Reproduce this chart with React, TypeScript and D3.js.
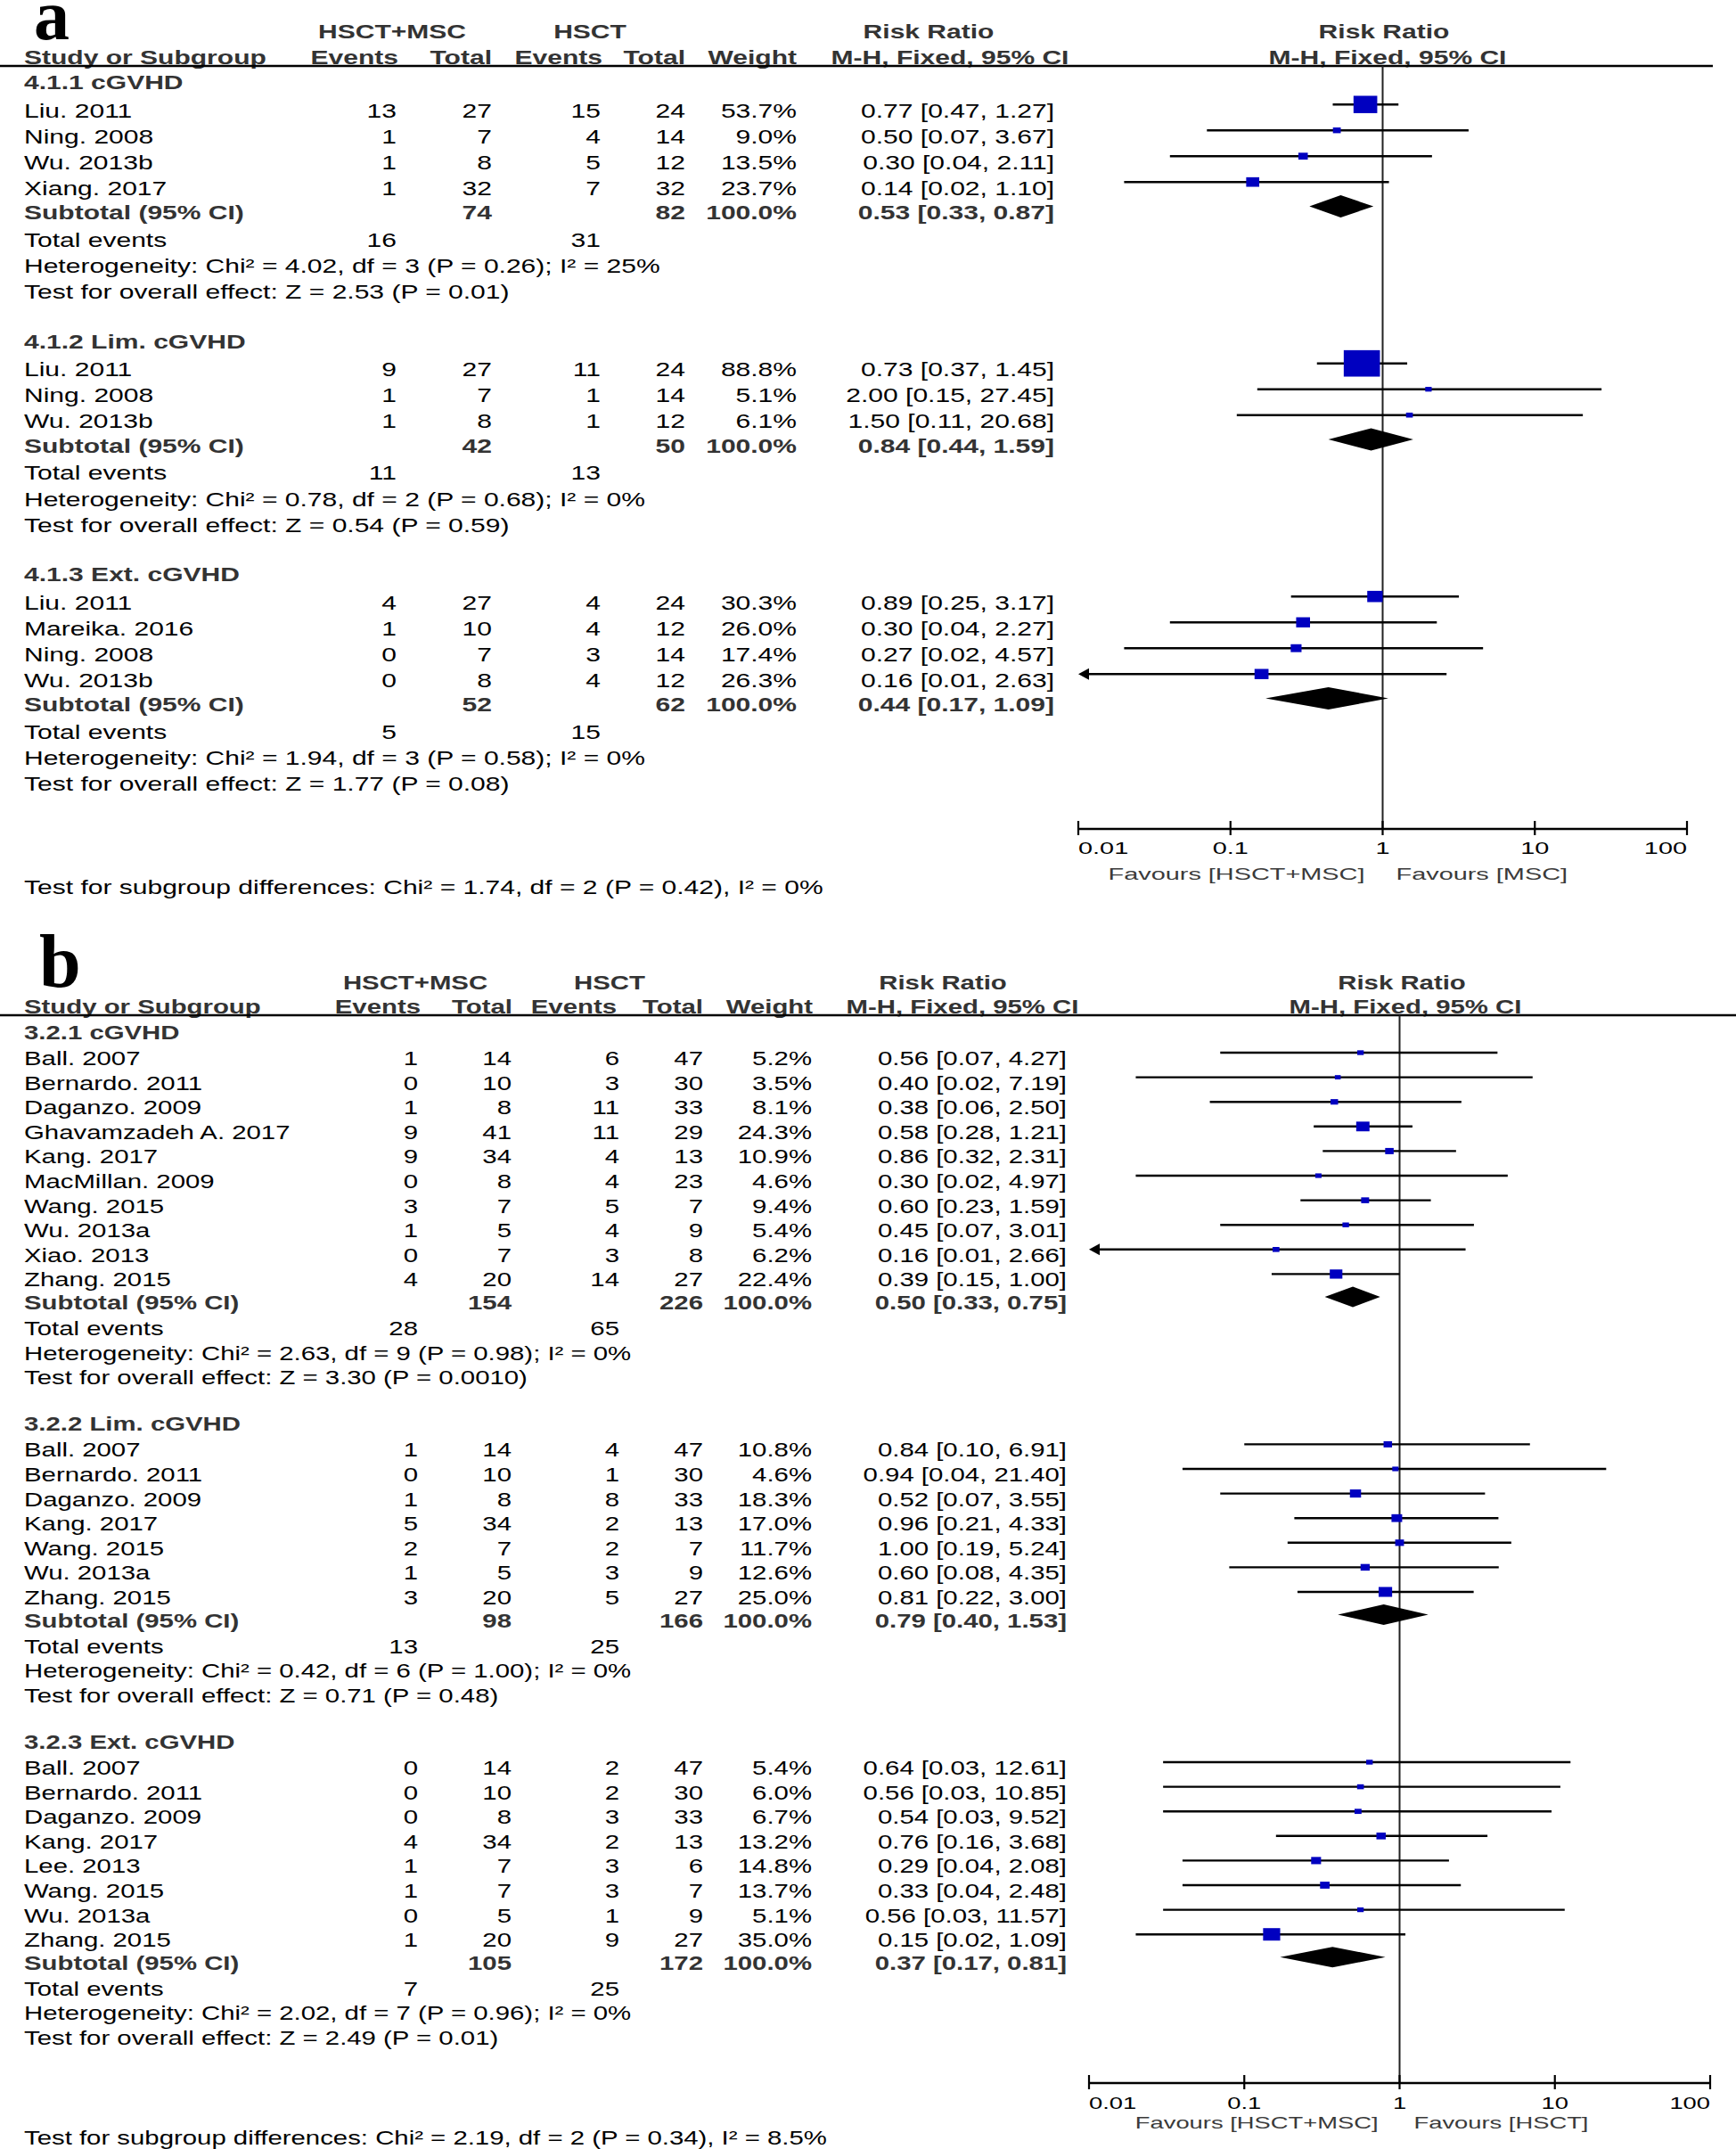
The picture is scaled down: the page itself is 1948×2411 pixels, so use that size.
import React from "react";
import * as d3 from "d3";

// ---------------- data ----------------
// [study, events HSCT+MSC, total HSCT+MSC, events HSCT, total HSCT, weight %, RR, CI low, CI high]
type Row = [string, number, number, number, number, number, number, number, number];

const a1Rows: Row[] = [
  ["Liu. 2011", 13, 27, 15, 24, 53.7, 0.77, 0.47, 1.27],
  ["Ning. 2008", 1, 7, 4, 14, 9.0, 0.5, 0.07, 3.67],
  ["Wu. 2013b", 1, 8, 5, 12, 13.5, 0.3, 0.04, 2.11],
  ["Xiang. 2017", 1, 32, 7, 32, 23.7, 0.14, 0.02, 1.1],
];
const a1Summary = [74, 82, 0.53, 0.33, 0.87];
const a1Events = [16, 31];
const a1Het = "Heterogeneity: Chi² = 4.02, df = 3 (P = 0.26); I² = 25%";
const a1Test = "Test for overall effect: Z = 2.53 (P = 0.01)";

const a2Rows: Row[] = [
  ["Liu. 2011", 9, 27, 11, 24, 88.8, 0.73, 0.37, 1.45],
  ["Ning. 2008", 1, 7, 1, 14, 5.1, 2.0, 0.15, 27.45],
  ["Wu. 2013b", 1, 8, 1, 12, 6.1, 1.5, 0.11, 20.68],
];
const a2Summary = [42, 50, 0.84, 0.44, 1.59];
const a2Events = [11, 13];
const a2Het = "Heterogeneity: Chi² = 0.78, df = 2 (P = 0.68); I² = 0%";
const a2Test = "Test for overall effect: Z = 0.54 (P = 0.59)";

const a3Rows: Row[] = [
  ["Liu. 2011", 4, 27, 4, 24, 30.3, 0.89, 0.25, 3.17],
  ["Mareika. 2016", 1, 10, 4, 12, 26.0, 0.3, 0.04, 2.27],
  ["Ning. 2008", 0, 7, 3, 14, 17.4, 0.27, 0.02, 4.57],
  ["Wu. 2013b", 0, 8, 4, 12, 26.3, 0.16, 0.009, 2.63],
];
const a3Summary = [52, 62, 0.44, 0.17, 1.09];
const a3Events = [5, 15];
const a3Het = "Heterogeneity: Chi² = 1.94, df = 3 (P = 0.58); I² = 0%";
const a3Test = "Test for overall effect: Z = 1.77 (P = 0.08)";

const aDiff = "Test for subgroup differences: Chi² = 1.74, df = 2 (P = 0.42), I² = 0%";
const aFavLeft = "Favours [HSCT+MSC]";
const aFavRight = "Favours [MSC]";

const b1Rows: Row[] = [
  ["Ball. 2007", 1, 14, 6, 47, 5.2, 0.56, 0.07, 4.27],
  ["Bernardo. 2011", 0, 10, 3, 30, 3.5, 0.4, 0.02, 7.19],
  ["Daganzo. 2009", 1, 8, 11, 33, 8.1, 0.38, 0.06, 2.5],
  ["Ghavamzadeh A. 2017", 9, 41, 11, 29, 24.3, 0.58, 0.28, 1.21],
  ["Kang. 2017", 9, 34, 4, 13, 10.9, 0.86, 0.32, 2.31],
  ["MacMillan. 2009", 0, 8, 4, 23, 4.6, 0.3, 0.02, 4.97],
  ["Wang. 2015", 3, 7, 5, 7, 9.4, 0.6, 0.23, 1.59],
  ["Wu. 2013a", 1, 5, 4, 9, 5.4, 0.45, 0.07, 3.01],
  ["Xiao. 2013", 0, 7, 3, 8, 6.2, 0.16, 0.009, 2.66],
  ["Zhang. 2015", 4, 20, 14, 27, 22.4, 0.39, 0.15, 1.0],
];
const b1Summary = [154, 226, 0.5, 0.33, 0.75];
const b1Events = [28, 65];
const b1Het = "Heterogeneity: Chi² = 2.63, df = 9 (P = 0.98); I² = 0%";
const b1Test = "Test for overall effect: Z = 3.30 (P = 0.0010)";

const b2Rows: Row[] = [
  ["Ball. 2007", 1, 14, 4, 47, 10.8, 0.84, 0.1, 6.91],
  ["Bernardo. 2011", 0, 10, 1, 30, 4.6, 0.94, 0.04, 21.4],
  ["Daganzo. 2009", 1, 8, 8, 33, 18.3, 0.52, 0.07, 3.55],
  ["Kang. 2017", 5, 34, 2, 13, 17.0, 0.96, 0.21, 4.33],
  ["Wang. 2015", 2, 7, 2, 7, 11.7, 1.0, 0.19, 5.24],
  ["Wu. 2013a", 1, 5, 3, 9, 12.6, 0.6, 0.08, 4.35],
  ["Zhang. 2015", 3, 20, 5, 27, 25.0, 0.81, 0.22, 3.0],
];
const b2Summary = [98, 166, 0.79, 0.4, 1.53];
const b2Events = [13, 25];
const b2Het = "Heterogeneity: Chi² = 0.42, df = 6 (P = 1.00); I² = 0%";
const b2Test = "Test for overall effect: Z = 0.71 (P = 0.48)";

const b3Rows: Row[] = [
  ["Ball. 2007", 0, 14, 2, 47, 5.4, 0.64, 0.03, 12.61],
  ["Bernardo. 2011", 0, 10, 2, 30, 6.0, 0.56, 0.03, 10.85],
  ["Daganzo. 2009", 0, 8, 3, 33, 6.7, 0.54, 0.03, 9.52],
  ["Kang. 2017", 4, 34, 2, 13, 13.2, 0.76, 0.16, 3.68],
  ["Lee. 2013", 1, 7, 3, 6, 14.8, 0.29, 0.04, 2.08],
  ["Wang. 2015", 1, 7, 3, 7, 13.7, 0.33, 0.04, 2.48],
  ["Wu. 2013a", 0, 5, 1, 9, 5.1, 0.56, 0.03, 11.57],
  ["Zhang. 2015", 1, 20, 9, 27, 35.0, 0.15, 0.02, 1.09],
];
const b3Summary = [105, 172, 0.37, 0.17, 0.81];
const b3Events = [7, 25];
const b3Het = "Heterogeneity: Chi² = 2.02, df = 7 (P = 0.96); I² = 0%";
const b3Test = "Test for overall effect: Z = 2.49 (P = 0.01)";

const bDiff = "Test for subgroup differences: Chi² = 2.19, df = 2 (P = 0.34), I² = 8.5%";
const bFavLeft = "Favours [HSCT+MSC]";
const bFavRight = "Favours [HSCT]";

const tickValues = [0.01, 0.1, 1, 10, 100];
const tickLabels = ["0.01", "0.1", "1", "10", "100"];

const groupsA = [
  { title: "4.1.1 cGVHD", rows: a1Rows, summary: a1Summary, events: a1Events, het: a1Het, test: a1Test },
  { title: "4.1.2 Lim. cGVHD", rows: a2Rows, summary: a2Summary, events: a2Events, het: a2Het, test: a2Test },
  { title: "4.1.3 Ext. cGVHD", rows: a3Rows, summary: a3Summary, events: a3Events, het: a3Het, test: a3Test },
];
const groupsB = [
  { title: "3.2.1 cGVHD", rows: b1Rows, summary: b1Summary, events: b1Events, het: b1Het, test: b1Test },
  { title: "3.2.2 Lim. cGVHD", rows: b2Rows, summary: b2Summary, events: b2Events, het: b2Het, test: b2Test },
  { title: "3.2.3 Ext. cGVHD", rows: b3Rows, summary: b3Summary, events: b3Events, het: b3Het, test: b3Test },
];

// ---------------- layout ----------------
const SX = 1.365;
const SX_AX = 1.52;
const FONT = '"Liberation Sans", Arial, Helvetica, sans-serif';
const SERIF = '"Liberation Serif", "Times New Roman", serif';
const BOLD_FILL = "#333";
const BOX_FILL = "#0000c0";

const layoutA = {
  letter: "a", letterX: 38, letterY: 44, letterSize: 80,
  font: 22, hdr1Y: 43, hdr2Y: 71.7, ruleY: 74, ruleX2: 1922,
  nameX: 27, e1X: 445, n1X: 552, e2X: 674, n2X: 769, wX: 894, ciX: 1183,
  hMsc: 440, hHsct: 662, hRR1: 1042, hMH1: 1066, hRR2: 1553, hMH2: 1557,
  hEv1: 447, hTot1: 552, hEv2: 676, hTot2: 769, hW: 894,
  g0: 100, firstOff: 31.7, sp: 29, subOff: 27.3, totOff: 30.7, hetOff: 29.3, testOff: 29, gapOff: 55.5,
  markOff: 14.5, diaH: 12.5,
  xMin: 1210, xMax: 1893, axisY: 930, tickY: 958, axFont: 19, favY: 987, favFont: 19, favGapL: 20, favGapR: 15,
  diffY: 1003,
};

const layoutB = {
  letter: "b", letterX: 44, letterY: 1107, letterSize: 84,
  font: 21.5, hdr1Y: 1110, hdr2Y: 1136.7, ruleY: 1139, ruleX2: 1948,
  nameX: 27, e1X: 469, n1X: 574, e2X: 695, n2X: 789, wX: 911, ciX: 1197,
  hMsc: 466, hHsct: 684, hRR1: 1058, hMH1: 1080, hRR2: 1573, hMH2: 1577,
  hEv1: 472, hTot1: 575, hEv2: 692, hTot2: 789, hW: 912,
  g0: 1166, firstOff: 29, sp: 27.6, subOff: 25.5, totOff: 29, hetOff: 27.6, testOff: 27.6, gapOff: 52.3,
  markOff: 14, diaH: 11.5,
  xMin: 1222, xMax: 1919, axisY: 2337, tickY: 2366, axFont: 18, favY: 2388, favFont: 18, favGapL: 24, favGapR: 16,
  diffY: 2406,
};

const T = ({ x, y, anchor = "start", bold = false, size, fill = "#000", sx = SX, family = FONT, children }: any) => (
  <text
    transform={`translate(${x},${y}) scale(${sx},1)`}
    textAnchor={anchor}
    fontWeight={bold ? 700 : 400}
    fontSize={size}
    fill={bold && fill === "#000" ? BOLD_FILL : fill}
    fontFamily={family}
  >
    {children}
  </text>
);

const fmtCI = (rr: number, lo: number, hi: number) =>
  `${rr.toFixed(2)} [${Math.max(lo, 0.01).toFixed(2)}, ${hi.toFixed(2)}]`;

function Panel({ L, groups, favL, favR, diff }: any) {
  const x = d3.scaleLog().domain([0.01, 100]).range([L.xMin, L.xMax]);
  const boxW = d3.scaleLinear().domain([0, 100]).range([5.2, 45.1]);
  const f = L.font;
  const els: any[] = [];
  let gy = L.g0;
  groups.forEach((g: any, gi: number) => {
    const G = gy;
    els.push(<T key={`g${gi}`} x={L.nameX} y={G} size={f} bold>{g.title}</T>);
    let last = G + L.firstOff - L.sp;
    g.rows.forEach((r: Row, i: number) => {
      const b = G + L.firstOff + i * L.sp;
      last = b;
      const [name, e1, n1, e2, n2, w, rr, lo, hi] = r;
      const ym = b - L.markOff;
      const k = `r${gi}-${i}`;
      els.push(<T key={k + "n"} x={L.nameX} y={b} size={f}>{name}</T>);
      els.push(<T key={k + "e1"} x={L.e1X} y={b} size={f} anchor="end">{e1}</T>);
      els.push(<T key={k + "n1"} x={L.n1X} y={b} size={f} anchor="end">{n1}</T>);
      els.push(<T key={k + "e2"} x={L.e2X} y={b} size={f} anchor="end">{e2}</T>);
      els.push(<T key={k + "n2"} x={L.n2X} y={b} size={f} anchor="end">{n2}</T>);
      els.push(<T key={k + "w"} x={L.wX} y={b} size={f} anchor="end">{w.toFixed(1) + "%"}</T>);
      els.push(<T key={k + "ci"} x={L.ciX} y={b} size={f} anchor="end">{fmtCI(rr, lo, hi)}</T>);
      const arrow = lo <= 0.01;
      const x1 = arrow ? L.xMin + 8 : x(lo);
      els.push(<line key={k + "l"} x1={x1} x2={x(Math.min(hi, 100))} y1={ym} y2={ym} stroke="#000" strokeWidth={2.4} />);
      if (arrow) {
        els.push(
          <polygon key={k + "a"} points={`${L.xMin},${ym} ${L.xMin + 12},${ym - 6.5} ${L.xMin + 12},${ym + 6.5}`} fill="#000" />
        );
      }
      const bw = boxW(w);
      const bh = bw / 1.37;
      els.push(<rect key={k + "b"} x={x(rr) - bw / 2} y={ym - bh / 2} width={bw} height={bh} fill={BOX_FILL} />);
    });
    const sub = last + L.subOff;
    const [t1, t2, srr, slo, shi] = g.summary;
    els.push(<T key={`s${gi}a`} x={L.nameX} y={sub} size={f} bold>Subtotal (95% CI)</T>);
    els.push(<T key={`s${gi}b`} x={L.n1X} y={sub} size={f} bold anchor="end">{t1}</T>);
    els.push(<T key={`s${gi}c`} x={L.n2X} y={sub} size={f} bold anchor="end">{t2}</T>);
    els.push(<T key={`s${gi}d`} x={L.wX} y={sub} size={f} bold anchor="end">100.0%</T>);
    els.push(<T key={`s${gi}e`} x={L.ciX} y={sub} size={f} bold anchor="end">{fmtCI(srr, slo, shi)}</T>);
    const sm = sub - L.markOff;
    els.push(
      <polygon
        key={`s${gi}dia`}
        points={`${x(slo)},${sm} ${x(srr)},${sm - L.diaH} ${x(shi)},${sm} ${x(srr)},${sm + L.diaH}`}
        fill="#000"
      />
    );
    const tot = sub + L.totOff;
    els.push(<T key={`t${gi}a`} x={L.nameX} y={tot} size={f}>Total events</T>);
    els.push(<T key={`t${gi}b`} x={L.e1X} y={tot} size={f} anchor="end">{g.events[0]}</T>);
    els.push(<T key={`t${gi}c`} x={L.e2X} y={tot} size={f} anchor="end">{g.events[1]}</T>);
    const het = tot + L.hetOff;
    els.push(<T key={`h${gi}`} x={L.nameX} y={het} size={f}>{g.het}</T>);
    const test = het + L.testOff;
    els.push(<T key={`o${gi}`} x={L.nameX} y={test} size={f}>{g.test}</T>);
    gy = test + L.gapOff;
  });

  const c = x(1);
  return (
    <g>
      <text x={L.letterX} y={L.letterY} fontFamily={SERIF} fontWeight={700} fontSize={L.letterSize} fill="#000">
        {L.letter}
      </text>
      <T x={L.hMsc} y={L.hdr1Y} size={f} bold anchor="middle">HSCT+MSC</T>
      <T x={L.hHsct} y={L.hdr1Y} size={f} bold anchor="middle">HSCT</T>
      <T x={L.hRR1} y={L.hdr1Y} size={f} bold anchor="middle">Risk Ratio</T>
      <T x={L.hRR2} y={L.hdr1Y} size={f} bold anchor="middle">Risk Ratio</T>
      <T x={L.nameX} y={L.hdr2Y} size={f} bold>Study or Subgroup</T>
      <T x={L.hEv1} y={L.hdr2Y} size={f} bold anchor="end">Events</T>
      <T x={L.hTot1} y={L.hdr2Y} size={f} bold anchor="end">Total</T>
      <T x={L.hEv2} y={L.hdr2Y} size={f} bold anchor="end">Events</T>
      <T x={L.hTot2} y={L.hdr2Y} size={f} bold anchor="end">Total</T>
      <T x={L.hW} y={L.hdr2Y} size={f} bold anchor="end">Weight</T>
      <T x={L.hMH1} y={L.hdr2Y} size={f} bold anchor="middle">M-H, Fixed, 95% CI</T>
      <T x={L.hMH2} y={L.hdr2Y} size={f} bold anchor="middle">M-H, Fixed, 95% CI</T>
      <line x1={0} x2={L.ruleX2} y1={L.ruleY} y2={L.ruleY} stroke="#000" strokeWidth={2.6} />
      <line x1={c} x2={c} y1={L.ruleY} y2={L.axisY} stroke="#222" strokeWidth={2} />
      {els}
      <line x1={L.xMin} x2={L.xMax} y1={L.axisY} y2={L.axisY} stroke="#000" strokeWidth={2.6} />
      {tickValues.map((t, i) => (
        <g key={"tk" + i}>
          <line x1={x(t)} x2={x(t)} y1={L.axisY - 9} y2={L.axisY + 7} stroke="#000" strokeWidth={2.2} />
          <T
            x={x(t)}
            y={L.tickY}
            size={L.axFont}
            sx={SX_AX}
            anchor={i === 0 ? "start" : i === tickValues.length - 1 ? "end" : "middle"}
          >
            {tickLabels[i]}
          </T>
        </g>
      ))}
      <T x={c - L.favGapL} y={L.favY} size={L.favFont} sx={SX_AX} anchor="end" fill="#3a3a3a">{favL}</T>
      <T x={c + L.favGapR} y={L.favY} size={L.favFont} sx={SX_AX} anchor="start" fill="#3a3a3a">{favR}</T>
      <T x={L.nameX} y={L.diffY} size={f}>{diff}</T>
    </g>
  );
}

export default function App() {
  return (
    <svg
      width={1948}
      height={2411}
      viewBox="0 0 1948 2411"
      style={{ position: "absolute", left: 0, top: 0, display: "block", background: "#fff" }}
    >
      <rect x={0} y={0} width={1948} height={2411} fill="#fff" />
      <Panel L={layoutA} groups={groupsA} favL={aFavLeft} favR={aFavRight} diff={aDiff} />
      <Panel L={layoutB} groups={groupsB} favL={bFavLeft} favR={bFavRight} diff={bDiff} />
    </svg>
  );
}
